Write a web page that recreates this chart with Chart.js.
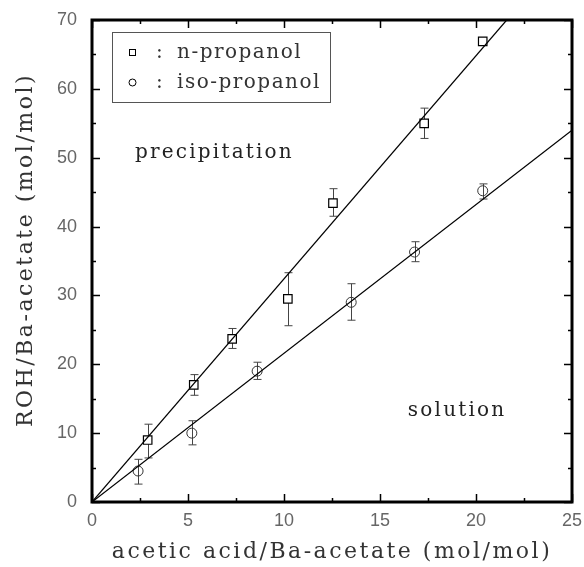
<!DOCTYPE html>
<html>
<head>
<meta charset="utf-8">
<script src="https://cdn.jsdelivr.net/npm/chart.js@4/dist/chart.umd.min.js"></script>
<style>
  html, body { margin: 0; padding: 0; background: #fff; }
  #wrap { width: 584px; height: 567px; }
</style>
</head>
<body>
<div id="wrap"><canvas id="chart" width="584" height="567"></canvas></div>
<script>
// n-propanol (squares)
var nPropX = [2.9, 5.3, 7.3, 10.2, 12.55, 17.3, 20.35];
var nPropY = [9.0, 17.0, 23.7, 29.5, 43.4, 55.0, 66.9];
var nPropLow = [6.4, 15.5, 22.3, 25.6, 41.5, 52.8, 66.9];
var nPropHigh = [11.3, 18.5, 25.2, 33.3, 45.5, 57.2, 66.9];

// iso-propanol (circles)
var isoX = [2.4, 5.2, 8.6, 13.5, 16.8, 20.35];
var isoY = [4.5, 10.0, 19.0, 29.0, 36.3, 45.2];
var isoLow = [2.6, 8.3, 17.8, 26.4, 34.9, 44.0];
var isoHigh = [6.2, 11.8, 20.3, 31.7, 37.8, 46.2];

// fitted lines (end points)
var nFitX = [0, 21.6];
var nFitY = [0, 70];
var isoFitX = [0, 25];
var isoFitY = [0, 54.0];

var xTicks = [0, 5, 10, 15, 20, 25];
var yTicks = [0, 10, 20, 30, 40, 50, 60, 70];

var xTitle = 'acetic acid/Ba-acetate (mol/mol)';
var yTitle = 'ROH/Ba-acetate (mol/mol)';

var serif = '"DejaVu Serif", "Liberation Serif", serif';
var sans = '"Liberation Sans", "DejaVu Sans", sans-serif';

function pts(xs, ys) {
  var out = [];
  for (var i = 0; i < xs.length; i++) out.push({ x: xs[i], y: ys[i] });
  return out;
}

// error bars under the markers
var errorBars = {
  id: 'errorBars',
  beforeDatasetsDraw: function(chart) {
    var ctx = chart.ctx, xs = chart.scales.x, ys = chart.scales.y;
    var sets = [[nPropX, nPropLow, nPropHigh], [isoX, isoLow, isoHigh]];
    ctx.save();
    ctx.strokeStyle = '#444';
    ctx.lineWidth = 1;
    sets.forEach(function(s) {
      for (var i = 0; i < s[0].length; i++) {
        if (s[1][i] === s[2][i]) continue;
        var px = Math.round(xs.getPixelForValue(s[0][i])) + 0.5;
        var lo = ys.getPixelForValue(s[1][i]);
        var hi = ys.getPixelForValue(s[2][i]);
        ctx.beginPath();
        ctx.moveTo(px, lo); ctx.lineTo(px, hi);
        ctx.moveTo(px - 4, lo); ctx.lineTo(px + 4, lo);
        ctx.moveTo(px - 4, hi); ctx.lineTo(px + 4, hi);
        ctx.stroke();
      }
    });
    ctx.restore();
  }
};

// frame, inward ticks, titles, legend box and region labels
var frame = {
  id: 'frame',
  afterDraw: function(chart) {
    var ctx = chart.ctx, a = chart.chartArea;
    var xs = chart.scales.x, ys = chart.scales.y;
    ctx.save();
    ctx.strokeStyle = '#000';
    ctx.lineWidth = 1.5;
    var v, p;
    for (v = 0; v <= 25; v += 2.5) {
      p = Math.round(xs.getPixelForValue(v)) + 0.5;
      var lx = (v % 5 === 0) ? 8 : 4;
      ctx.beginPath();
      ctx.moveTo(p, a.bottom); ctx.lineTo(p, a.bottom - lx);
      ctx.moveTo(p, a.top); ctx.lineTo(p, a.top + lx);
      ctx.stroke();
    }
    for (v = 0; v <= 70; v += 5) {
      p = Math.round(ys.getPixelForValue(v)) + 0.5;
      var ly = (v % 10 === 0) ? 8 : 4;
      ctx.beginPath();
      ctx.moveTo(a.left, p); ctx.lineTo(a.left + ly, p);
      ctx.moveTo(a.right, p); ctx.lineTo(a.right - ly, p);
      ctx.stroke();
    }
    ctx.lineWidth = 3;
    ctx.strokeRect(a.left, a.top, a.right - a.left, a.bottom - a.top);

    // axis titles (wide spacing like the original)
    ctx.fillStyle = '#333';
    ctx.font = '22px ' + serif;
    ctx.letterSpacing = '2.5px';
    ctx.textBaseline = 'alphabetic';
    ctx.textAlign = 'left';
    var w = ctx.measureText(xTitle).width;
    ctx.fillText(xTitle, (a.left + a.right) / 2 - w / 2, 558);
    ctx.save();
    ctx.translate(32, 250);
    ctx.rotate(-Math.PI / 2);
    w = ctx.measureText(yTitle).width;
    ctx.fillText(yTitle, -w / 2, 0);
    ctx.restore();

    // legend
    ctx.lineWidth = 1;
    ctx.strokeStyle = '#555';
    ctx.strokeRect(112.5, 32.5, 218, 70);
    ctx.strokeStyle = '#000';
    ctx.strokeRect(129.5, 49.5, 6, 6);
    ctx.beginPath();
    ctx.arc(132.5, 82.5, 3.5, 0, Math.PI * 2);
    ctx.stroke();
    ctx.fillStyle = '#333';
    ctx.font = '20px ' + serif;
    ctx.letterSpacing = '1.5px';
    ctx.textBaseline = 'middle';
    ctx.fillText(':', 156, 53);
    ctx.fillText(':', 156, 83);
    ctx.fillText('n-propanol', 177, 53);
    ctx.fillText('iso-propanol', 177, 83);

    // region labels
    ctx.font = '20px ' + serif;
    ctx.letterSpacing = '2.2px';
    ctx.fillStyle = '#222';
    ctx.textBaseline = 'alphabetic';
    ctx.fillText('precipitation', xs.getPixelForValue(2.24), ys.getPixelForValue(50));
    ctx.fillText('solution', xs.getPixelForValue(16.45), ys.getPixelForValue(12.5));
    ctx.letterSpacing = '0px';
    ctx.restore();
  }
};

var ctx = document.getElementById('chart').getContext('2d');
var chart = new Chart(ctx, {
  type: 'scatter',
  data: {
    datasets: [{
      label: 'n-propanol',
      data: pts(nPropX, nPropY),
      pointStyle: 'rect',
      pointRadius: 6,
      borderColor: '#000',
      backgroundColor: '#fff',
      borderWidth: 1.2,
      order: 2
    }, {
      label: 'iso-propanol',
      data: pts(isoX, isoY),
      pointStyle: 'circle',
      pointRadius: 5,
      borderColor: '#333',
      backgroundColor: 'rgba(255,255,255,0)',
      borderWidth: 1,
      order: 2
    }, {
      label: 'n-propanol fit',
      type: 'line',
      data: pts(nFitX, nFitY),
      borderColor: '#000',
      borderWidth: 1.2,
      pointRadius: 0,
      order: 1
    }, {
      label: 'iso-propanol fit',
      type: 'line',
      data: pts(isoFitX, isoFitY),
      borderColor: '#000',
      borderWidth: 1.2,
      pointRadius: 0,
      order: 1
    }]
  },
  options: {
    responsive: false,
    animation: false,
    layout: { padding: { left: 0, right: 12, top: 20, bottom: 0 } },
    plugins: {
      legend: { display: false },
      tooltip: { enabled: false }
    },
    scales: {
      x: {
        type: 'linear',
        min: 0, max: 25,
        afterBuildTicks: function(s) { s.ticks = xTicks.map(function(v) { return { value: v }; }); },
        afterFit: function(s) { s.height = 65; s.paddingLeft = 0; s.paddingRight = 0; },
        grid: { display: false, drawTicks: false },
        border: { display: false },
        ticks: { padding: 8, color: '#666', font: { family: sans, size: 18 } }
      },
      y: {
        type: 'linear',
        min: 0, max: 70,
        afterBuildTicks: function(s) { s.ticks = yTicks.map(function(v) { return { value: v }; }); },
        afterFit: function(s) { s.width = 92; s.paddingTop = 0; s.paddingBottom = 0; },
        grid: { display: false, drawTicks: false },
        border: { display: false },
        ticks: { padding: 15, color: '#666', font: { family: sans, size: 18 } }
      }
    }
  },
  plugins: [errorBars, frame]
});
</script>
</body>
</html>
